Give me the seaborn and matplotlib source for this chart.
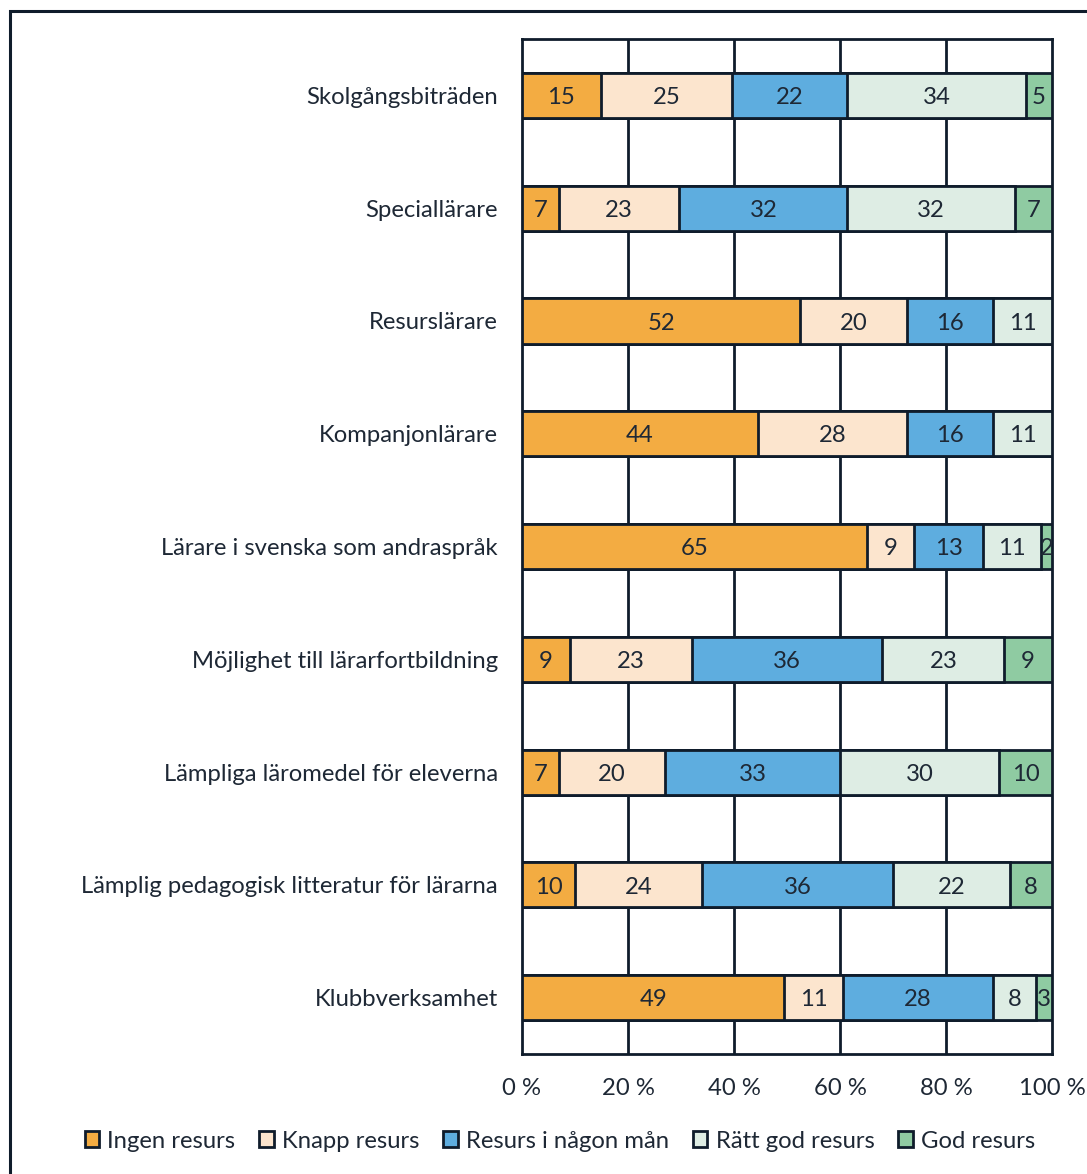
import matplotlib
matplotlib.use("Agg")
import matplotlib.pyplot as plt
from matplotlib.patches import Rectangle, Patch
import seaborn as sns
import numpy as np
import pandas as pd

categories = [
    "Skolgångsbiträden",
    "Speciallärare",
    "Resurslärare",
    "Kompanjonlärare",
    "Lärare i svenska som andraspråk",
    "Möjlighet till lärarfortbildning",
    "Lämpliga läromedel för eleverna",
    "Lämplig pedagogisk litteratur för lärarna",
    "Klubbverksamhet",
]
series_names = ["Ingen resurs", "Knapp resurs", "Resurs i någon mån",
                "Rätt god resurs", "God resurs"]
ingen = [15, 7, 52, 44, 65, 9, 7, 10, 49]
knapp = [25, 23, 20, 28, 9, 23, 20, 24, 11]
nagon = [22, 32, 16, 16, 13, 36, 33, 36, 28]
ratt_god = [34, 32, 11, 11, 11, 23, 30, 22, 8]
god = [5, 7, 0, 0, 2, 9, 10, 8, 3]
xtick_values = [0, 20, 40, 60, 80, 100]
xtick_labels = ["0 %", "20 %", "40 %", "60 %", "80 %", "100 %"]

colors = ["#F3AC42", "#FCE5CE", "#5EADDF", "#DEEDE4", "#8FCBA2"]
dark = "#0f1c2b"
text_col = "#1e2835"
fs = 17.2

sns.set_theme(style="white")
plt.rcParams["font.family"] = ["Lato", "DejaVu Sans"]

raw = pd.DataFrame(
    {n: v for n, v in zip(series_names, [ingen, knapp, nagon, ratt_god, god])},
    index=categories,
)
pct = raw.div(raw.sum(axis=1), axis=0) * 100
cum = pct.cumsum(axis=1)

fig = plt.figure(figsize=(10.87, 11.74), dpi=100)
ax = fig.add_axes([522 / 1087, 1 - 1054 / 1174, 530 / 1087, 1015 / 1174])

# stacked bars: draw cumulative totals from the last series backwards
for name, col in reversed(list(zip(series_names, colors))):
    df = pd.DataFrame({"cat": categories, "val": cum[name].values})
    sns.barplot(data=df, x="val", y="cat", orient="h", color=col,
                width=0.4, edgecolor=dark, linewidth=2, saturation=1,
                ax=ax, zorder=3)

# value labels in the middle of each segment
for name in series_names:
    starts = cum[name] - pct[name]
    for i, cat in enumerate(categories):
        v = raw.loc[cat, name]
        if v == 0:
            continue
        ax.text(starts[cat] + pct.loc[cat, name] / 2, i + 0.02, f"{v}",
                ha="center", va="center", fontsize=fs, color=text_col,
                zorder=5)

ax.set_xlim(0, 100)
ax.set_ylim(8.5, -0.5)
for xv in xtick_values[1:-1]:
    ax.axvline(xv, color=dark, lw=2, zorder=1)
ax.set_xticks(xtick_values)
ax.set_xticklabels(xtick_labels)
ax.set_xlabel("")
ax.set_ylabel("")
ax.tick_params(axis="x", length=0, pad=17, labelsize=fs, labelcolor=text_col)
ax.tick_params(axis="y", length=0, pad=17.5, labelsize=fs, labelcolor=text_col)
for s in ax.spines.values():
    s.set_visible(True)
    s.set_color(dark)
    s.set_linewidth(2)
ax.grid(False)

handles = [Patch(facecolor=c, edgecolor=dark, linewidth=2) for c in colors]
fig.legend(handles, series_names, loc="center", ncol=5,
           bbox_to_anchor=(560 / 1087, 1 - 1141 / 1174), frameon=False,
           fontsize=fs, handlelength=0.6, handleheight=0.6,
           handletextpad=0.35, columnspacing=1.0, labelcolor=text_col)

# outer frame around the chart area
fig.patches.append(Rectangle((10 / 1087, -0.1), 1.2, 1 - 11 / 1174 + 0.1,
                             transform=fig.transFigure, fill=False,
                             edgecolor=dark, linewidth=2.2))

fig.savefig("out.png", dpi=100, facecolor="white")
